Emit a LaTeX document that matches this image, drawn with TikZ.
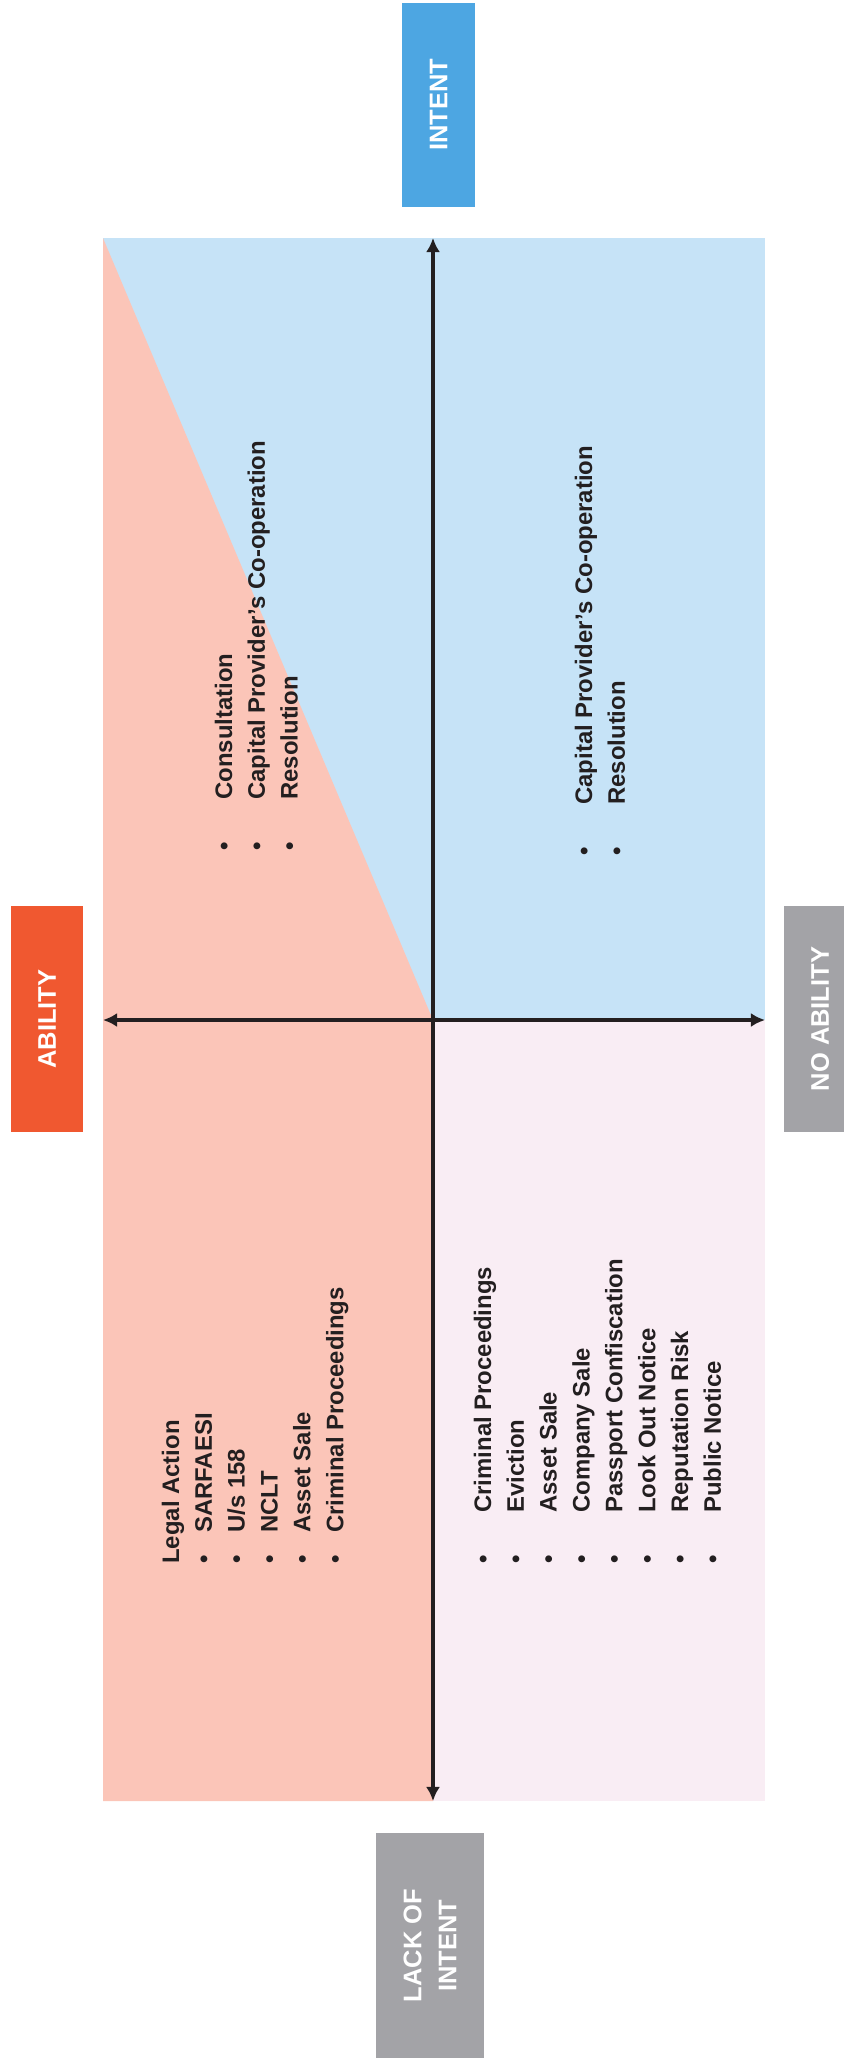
\documentclass[tikz,border=0pt]{standalone}
\usepackage{fontspec}
\setmainfont{Liberation Sans}
\usetikzlibrary{calc,arrows.meta}

\definecolor{quadpink}{RGB}{251,197,184}
\definecolor{quadblue}{RGB}{198,227,247}
\definecolor{quadlilac}{RGB}{249,237,244}
\definecolor{intentblue}{RGB}{77,166,226}
\definecolor{abilityred}{RGB}{240,88,48}
\definecolor{labelgrey}{RGB}{163,163,167}
\definecolor{inkblack}{RGB}{35,31,32}

\tikzset{
  tag/.style={rotate=90, text=white, inner sep=0pt, align=center,
    font=\fontsize{14.5}{20}\selectfont\bfseries},
  itemlist/.style={rotate=90, anchor=base west, inner sep=0pt, text=inkblack,
    font=\fontsize{13.6}{18.7}\selectfont\bfseries},
  axis/.style={line width=2.3pt, inkblack, {Latex[length=8pt,width=8pt]}-{Latex[length=8pt,width=8pt]}},
}

\begin{document}
\begin{tikzpicture}[x=0.02cm, y=-0.02cm]
        \useasboundingbox (0,0) rectangle (843,2066);
        \coordinate (O) at (433,1020);
        \coordinate (N) at (433,238);
        \coordinate (S) at (433,1801);
        \coordinate (W) at (103,1020);
        \coordinate (E) at (765,1020);
        \coordinate (NW) at (103,238);
        \coordinate (SW) at (103,1801);
        \coordinate (SE) at (765,1801);

        % Quadrants.
        \fill[quadblue] (NW) rectangle (E);
        \fill[quadlilac] (O) rectangle (SE);
        \fill[quadpink] (NW) -- (O) -- (S) -- (SW) -- cycle;

        % Axis.
        \draw[axis] (N) -- (S);
        \draw[axis] (W) -- (E);

        % Labels.
        \node[tag, fill=intentblue, minimum width=4.08cm, minimum height=1.46cm] (intent) at (438.5,105) {INTENT};
        \node[tag, fill=abilityred, minimum width=4.52cm, minimum height=1.44cm] (ability) at (47,1019) {ABILITY};
        \node[tag, fill=labelgrey, minimum width=4.52cm, minimum height=1.44cm] (noability) at (820,1019) {NO ABILITY};
        \node[tag, fill=labelgrey, minimum width=4.5cm, minimum height=2.16cm] (lackintent) at (430,1945.5) {LACK OF\\INTENT};

        % Lists.
        \node[itemlist] (consult) at (232,851) {%
          \begin{tabular}[t]{@{}l@{\hspace{24.3pt}}l@{}}
            \textbullet & Consultation\\
            \textbullet & Capital Provider’s Co-operation\\
            \textbullet & Resolution
          \end{tabular}};
        \node[itemlist] (coop) at (592,856) {%
          \begin{tabular}[t]{@{}l@{\hspace{24.3pt}}l@{}}
            \textbullet & Capital Provider’s Co-operation\\
            \textbullet & Resolution
          \end{tabular}};
        \node[itemlist] (legal) at (179,1564) {%
          \begin{tabular}[t]{@{}l@{\hspace{12.8pt}}l@{}}
            \multicolumn{2}{@{}l@{}}{Legal Action}\\
            \textbullet & SARFAESI\\
            \textbullet & U/s 158\\
            \textbullet & NCLT\\
            \textbullet & Asset Sale\\
            \textbullet & Criminal Proceedings
          \end{tabular}};
        \node[itemlist] (coercive) at (491,1564) {%
          \begin{tabular}[t]{@{}l@{\hspace{24.3pt}}l@{}}
            \textbullet & Criminal Proceedings\\
            \textbullet & Eviction\\
            \textbullet & Asset Sale\\
            \textbullet & Company Sale\\
            \textbullet & Passport Confiscation\\
            \textbullet & Look Out Notice\\
            \textbullet & Reputation Risk\\
            \textbullet & Public Notice
          \end{tabular}};

    \end{tikzpicture}
\end{document}
